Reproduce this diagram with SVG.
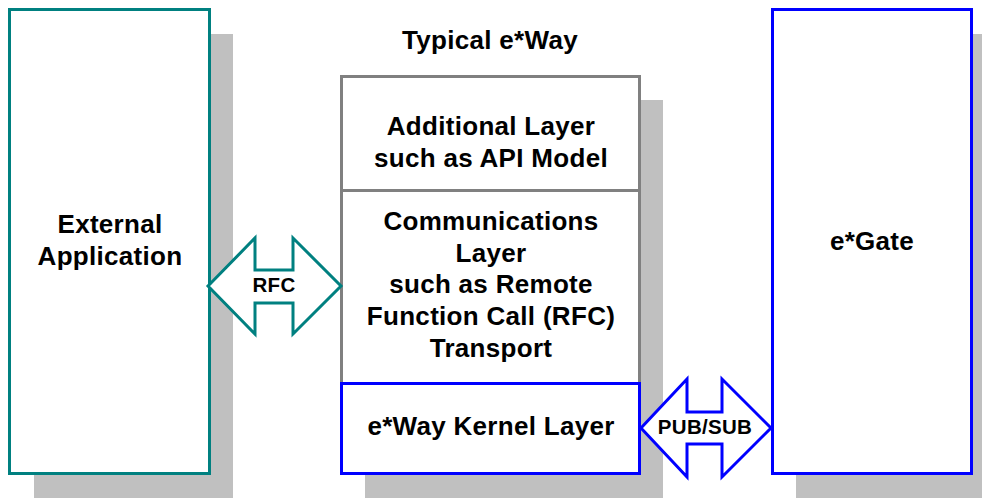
<svg xmlns="http://www.w3.org/2000/svg" width="982" height="498" viewBox="0 0 982 498">
<style>
.shadow{fill:#c0c0c0;stroke:none}
.box{fill:#fff;stroke-width:3}
.teal{stroke:#008080}
.blue{stroke:#0000ff}
.gray{stroke:#808080}
text{font-family:"Liberation Sans",Arial,sans-serif;font-weight:bold;fill:#000;text-anchor:middle}
.big{font-size:26px;letter-spacing:0.3px}
.small{font-size:20.5px;letter-spacing:0.3px}
.arrow{fill:#fff;stroke-width:3;stroke-linejoin:miter}
</style>
<rect width="982" height="498" fill="#fff"/>
<g id="external">
<rect class="shadow" x="34" y="34" width="199" height="464"/>
<rect class="box teal" x="9.5" y="9.5" width="200" height="464"/>
<text class="big" x="110" y="233">External</text>
<text class="big" x="110" y="265">Application</text>
</g>
<g id="eway">
<rect class="shadow" x="365" y="100" width="298" height="398"/>
<text class="big" x="490" y="49">Typical e*Way</text>
<g id="additional">
<rect class="box gray" x="341.5" y="76.5" width="298" height="114"/>
<text class="big" x="491" y="135">Additional Layer</text>
<text class="big" x="491" y="167">such as API Model</text>
</g>
<g id="communications">
<rect class="box gray" x="341.5" y="190.5" width="298" height="193"/>
<text class="big" x="491" y="230">Communications</text>
<text class="big" x="491" y="262">Layer</text>
<text class="big" x="491" y="293">such as Remote</text>
<text class="big" x="491" y="325">Function Call (RFC)</text>
<text class="big" x="491" y="357">Transport</text>
</g>
<g id="kernel">
<rect class="box blue" x="341.5" y="383.5" width="298" height="90"/>
<text class="big" x="491" y="435">e*Way Kernel Layer</text>
</g>
</g>
<g id="egate">
<rect class="shadow" x="796" y="34" width="186" height="464"/>
<rect class="box blue" x="772.5" y="9.5" width="199" height="464"/>
<text class="big" x="872" y="250">e*Gate</text>
</g>
<g id="connectors">
<g id="rfc">
<polygon class="arrow teal" points="208,286 255,238 255,270 293,270 293,238 341,286 293,334 293,303 255,303 255,334"/>
<text class="small" x="274" y="292">RFC</text>
</g>
<g id="pubsub">
<polygon class="arrow blue" points="641,428 687,379 687,412 722,412 722,379 771,428 722,477 722,444 687,444 687,477"/>
<text class="small" x="705" y="434">PUB/SUB</text>
</g>
</g>
</svg>
